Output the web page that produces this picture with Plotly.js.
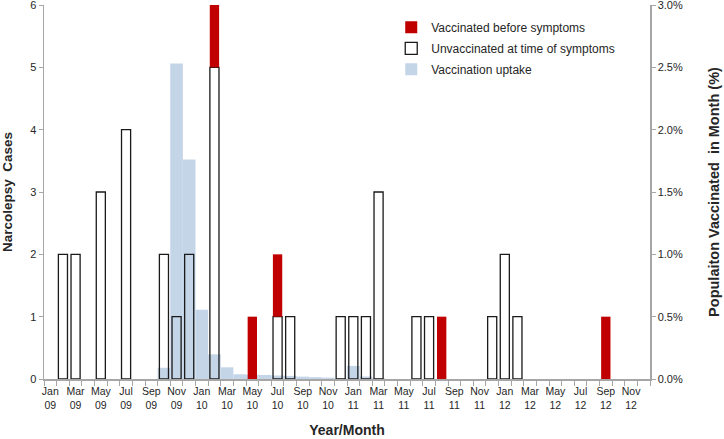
<!DOCTYPE html>
<html>
<head>
<meta charset="utf-8">
<script src="https://cdn.plot.ly/plotly-3.0.1.min.js"></script>
<style>html,body{margin:0;padding:0;background:#fff;}#chart{width:724px;height:439px;}</style>
</head>
<body>
<div id="chart"></div>
<script>
// Month categories, Jan 2009 .. Dec 2012
const months = [
  "Jan 09","Feb 09","Mar 09","Apr 09","May 09","Jun 09","Jul 09","Aug 09","Sep 09","Oct 09","Nov 09","Dec 09",
  "Jan 10","Feb 10","Mar 10","Apr 10","May 10","Jun 10","Jul 10","Aug 10","Sep 10","Oct 10","Nov 10","Dec 10",
  "Jan 11","Feb 11","Mar 11","Apr 11","May 11","Jun 11","Jul 11","Aug 11","Sep 11","Oct 11","Nov 11","Dec 11",
  "Jan 12","Feb 12","Mar 12","Apr 12","May 12","Jun 12","Jul 12","Aug 12","Sep 12","Oct 12","Nov 12","Dec 12"
];
// Tick labels (every other month)
const tickLabels = [
  "Jan<br>09","","Mar<br>09","","May<br>09","","Jul<br>09","","Sep<br>09","","Nov<br>09","",
  "Jan<br>10","","Mar<br>10","","May<br>10","","Jul<br>10","","Sep<br>10","","Nov<br>10","",
  "Jan<br>11","","Mar<br>11","","May<br>11","","Jul<br>11","","Sep<br>11","","Nov<br>11","",
  "Jan<br>12","","Mar<br>12","","May<br>12","","Jul<br>12","","Sep<br>12","","Nov<br>12",""
];
// Narcolepsy cases unvaccinated at time of symptoms
const unvaccinated = [
  0,2,2,0,3,0,4,0,0,2,1,2,
  0,5,0,0,0,0,1,1,0,0,0,1,
  1,1,3,0,0,1,1,0,0,0,0,1,
  2,1,0,0,0,0,0,0,0,0,0,0
];
// Narcolepsy cases vaccinated before symptoms
const vaccinated = [
  0,0,0,0,0,0,0,0,0,0,0,0,
  0,1,0,0,1,0,1,0,0,0,0,0,
  0,0,0,0,0,0,0,1,0,0,0,0,
  0,0,0,0,0,0,0,0,1,0,0,0
];
// Population vaccinated in month (%)
const uptake = [
  0,0,0,0,0,0,0,0,0,0.09,2.53,1.76,
  0.556,0.198,0.094,0.038,0.035,0.032,0.028,0.025,0.019,0.015,0.011,0.005,
  0.105,0.02,0.006,0,0,0,0,0,0,0,0,0,
  0,0,0,0,0,0,0,0,0,0,0,0
];

const nz = a => a.map(v => (v === 0 ? null : v));

const fontFam = "Arial, 'Liberation Sans', sans-serif";
const txtCol = "#262626";
const axCol = "#a6a6a6";

const traces = [
  {
    type: "bar", name: "Vaccination uptake", x: months, y: nz(uptake),
    yaxis: "y", width: 1, legendrank: 3, legendgroup: "c",
    marker: { color: "#c5d5e8", line: { width: 0 } }
  },
  {
    type: "bar", name: "Unvaccinated at time of symptoms", x: months, y: nz(unvaccinated),
    yaxis: "y2", width: 0.72, legendrank: 2, legendgroup: "b",
    marker: { color: "rgba(255,255,255,0)", line: { color: "#1a1a1a", width: 1.3 } }
  },
  {
    type: "bar", name: "Vaccinated before symptoms", x: months, y: nz(vaccinated),
    base: unvaccinated, yaxis: "y2", width: 0.74, legendrank: 1, legendgroup: "a",
    marker: { color: "#c00000", line: { width: 0 } }
  }
];

const layout = {
  width: 724, height: 439,
  margin: { l: 44, r: 74, t: 5, b: 60 },
  paper_bgcolor: "#fff", plot_bgcolor: "rgba(0,0,0,0)",
  barmode: "overlay",
  font: { family: fontFam, size: 11, color: txtCol },
  showlegend: true,
  legend: {
    x: 0.573, y: 0.979, xanchor: "left", yanchor: "top",
    bgcolor: "rgba(0,0,0,0)", borderwidth: 0,
    traceorder: "grouped", tracegroupgap: 2,
    font: { family: fontFam, size: 12, color: txtCol }
  },
  xaxis: {
    type: "category", categoryorder: "array", categoryarray: months,
    tickmode: "array", tickvals: months, ticktext: tickLabels,
    tickson: "boundaries", ticks: "outside", ticklen: 5, tickwidth: 1, tickcolor: axCol,
    showline: true, linecolor: axCol, linewidth: 1.5, showgrid: false, zeroline: false,
    tickangle: 0, tickfont: { size: 10.5, color: txtCol }, ticklabelstandoff: 2,
    title: { text: "Year/Month", font: { size: 14, weight: "bold", color: txtCol }, standoff: 15 },
    range: [-0.5, 47.5]
  },
  yaxis: {
    side: "right", range: [0, 3], dtick: 0.5, tickformat: ".1f", ticksuffix: "%",
    ticks: "outside", ticklen: 4, tickcolor: axCol, tickwidth: 1,
    showline: true, linecolor: axCol, linewidth: 1.5, showgrid: false, zeroline: false,
    tickfont: { size: 11, color: txtCol }, ticklabeloverflow: "allow",
    title: { text: "Populaiton Vaccinated\u00a0 in Month (%)", font: { size: 14.5, weight: "bold", color: txtCol }, standoff: 27 }
  },
  yaxis2: {
    overlaying: "y", side: "left", range: [0, 6], dtick: 1,
    ticks: "outside", ticklen: 4, tickcolor: axCol, tickwidth: 1,
    showline: true, linecolor: axCol, linewidth: 1.5, showgrid: false, zeroline: false,
    tickfont: { size: 11, color: txtCol }, ticklabeloverflow: "allow",
    title: { text: "Narcolepsy\u00a0 Cases", font: { size: 13.5, weight: "bold", color: txtCol }, standoff: 16 }
  }
};

Plotly.newPlot("chart", traces, layout, { displayModeBar: false, staticPlot: true });
</script>
</body>
</html>
